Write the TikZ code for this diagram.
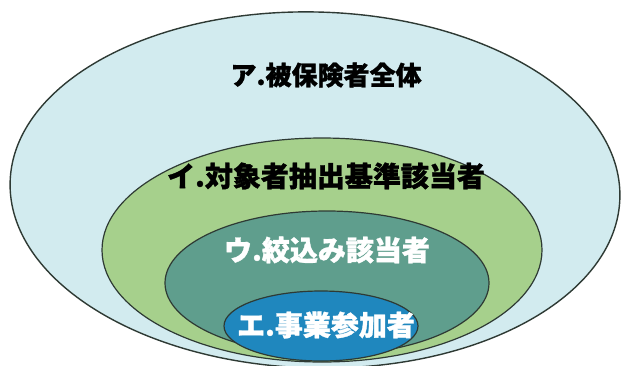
\documentclass[tikz,border=0pt]{standalone}
\usepackage{fontspec}
\newfontfamily\jp{Noto Sans CJK JP}[BoldFeatures={FakeBold=1.2}]
\definecolor{outerfill}{HTML}{D2EBEF}
\definecolor{greenfill}{HTML}{A6D08C}
\definecolor{tealfill}{HTML}{5F9E8D}
\definecolor{bluefill}{HTML}{1F87BE}
\definecolor{edgedark}{HTML}{2E3A34}
\tikzset{
  ring/.style={draw=edgedark, line width=1.2pt},
  lbl/.style={font=\jp\bfseries, inner sep=0pt, anchor=center},
}
\begin{document}
\begin{tikzpicture}[x=1pt,y=-1pt]
\useasboundingbox (0,0) rectangle (621,365);
\fill[white] (0,0) rectangle (621,365);
\draw[ring, fill=outerfill, line width=1.4pt] (315,190) ellipse [x radius=305pt, y radius=178pt, rotate=-1.5];
\draw[ring, fill=greenfill] (322,250) ellipse [x radius=220pt, y radius=112pt];
\draw[ring, fill=tealfill] (327,283) ellipse [x radius=162pt, y radius=72pt];
\draw[ring, fill=bluefill] (321,326) ellipse [x radius=97pt, y radius=35pt];
\node[lbl, text=black, font=\jp\bfseries\fontsize{26}{28}\selectfont] (a) at (326,75) {ア.被保険者全体};
\node[lbl, text=black, font=\jp\bfseries\fontsize{28}{30}\selectfont] (b) at (326,176) {イ.対象者抽出基準該当者};
\node[lbl, text=white, font=\jp\bfseries\fontsize{28}{30}\selectfont] (c) at (327,250) {ウ.絞込み該当者};
\node[lbl, text=white, font=\jp\bfseries\fontsize{28}{30}\selectfont] (d) at (326,325) {エ.事業参加者};
\end{tikzpicture}
\end{document}
